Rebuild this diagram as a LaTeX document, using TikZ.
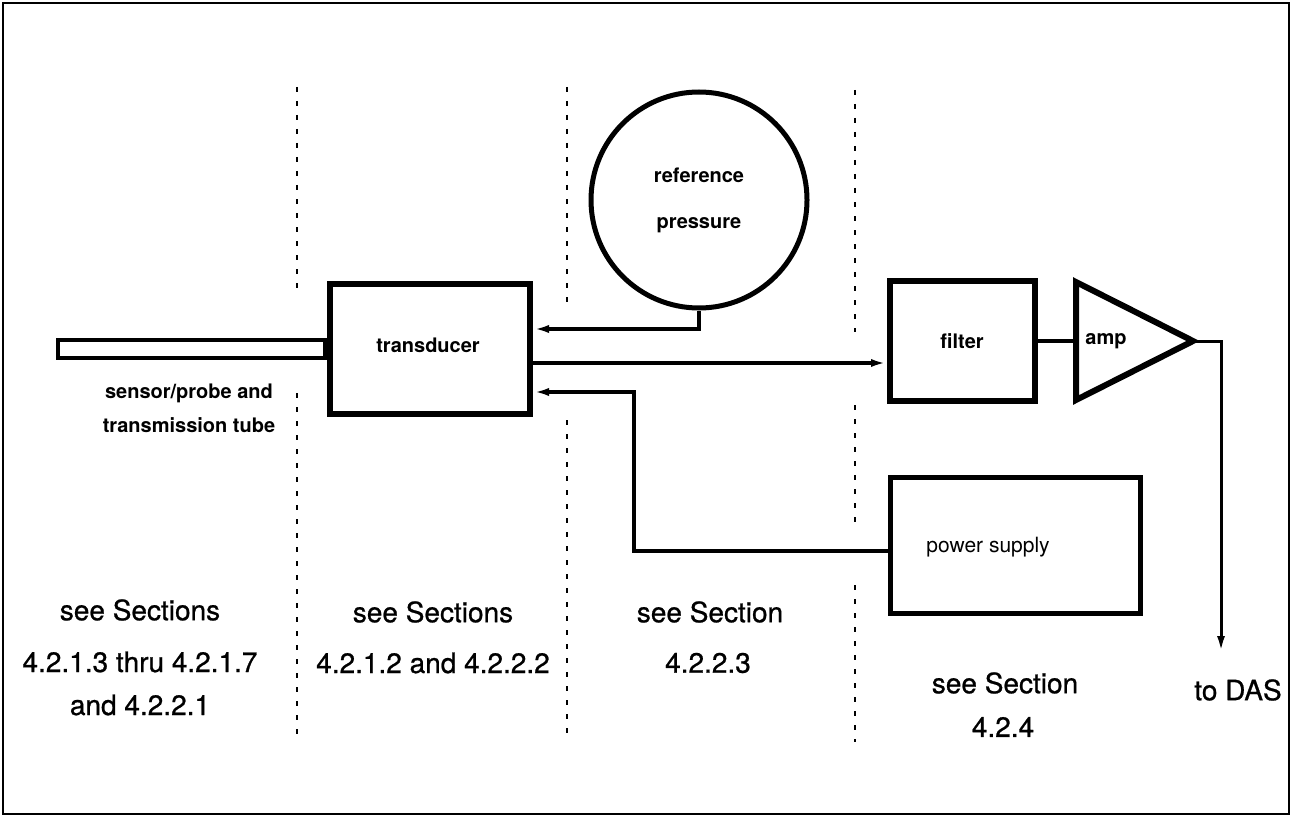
\documentclass[tikz,border=0pt]{standalone}
\usepackage{fontspec}
\setmainfont{TeX Gyre Heros}
\newfontfamily\medfont[FakeBold=0.8]{TeX Gyre Heros}
\usetikzlibrary{arrows.meta,calc}
\tikzset{
  blk/.style={draw, line width=3pt, inner sep=0pt},
  conn/.style={line width=2pt, -{Latex[length=8pt,width=4pt]}},
  sep/.style={line width=1pt, dash pattern=on 2.5pt off 4.5pt},
  lbl/.style={font=\fontsize{10}{12}\selectfont\bfseries},
  big/.style={font=\fontsize{14}{16}\selectfont\medfont}
}

\begin{document}
\begin{tikzpicture}[x=0.5pt,y=-0.5pt]

  \fill[white] (0,0) rectangle (1293,818);
  \useasboundingbox (0,0) rectangle (1293,818);
  \draw[line width=1pt] (3,3) rectangle (1289,814);

  \draw[sep] (297,87) -- (297,290);
  \draw[sep] (297,393) -- (297,740);
  \draw[sep] (567,87) -- (567,310);
  \draw[sep] (567,420) -- (567,740);
  \draw[sep] (855,90) -- (855,332);
  \draw[sep] (855,405) -- (855,527);
  \draw[sep] (855,585) -- (855,742);

  \node[blk, minimum width=100pt, minimum height=65pt] (trans) at (430,349) {};
  \node[lbl] (translbl) at (428,345) {transducer};
  \node[draw, line width=2pt, inner sep=0pt, minimum width=133.5pt, minimum height=9pt, anchor=east] (tube) at (trans.west) {};
  \node[lbl] (probe1) at (189,393) {sensor/probe and};
  \node[lbl] (probe2) at (189,425) {transmission tube};

  \node[draw, circle, line width=2.5pt, minimum size=108pt, inner sep=0pt, lbl, align=center] (ref) at (699,200) {reference\\[11pt]pressure};

  \node[blk, minimum width=72.5pt, minimum height=60pt] (filter) at (962.5,341) {};
  \node[lbl] (filterlbl) at (962,341) {filter};

  \draw[line width=3pt, line join=miter] (1076,282) -- (1193,341) -- (1076,400) -- cycle;
  \coordinate (ampin) at (1076,341);
  \coordinate (ampout) at (1193,341);
  \node[lbl] (amplbl) at (1106,341) {amp};

  \node[draw, line width=2.5pt, inner sep=0pt, minimum width=125pt, minimum height=68pt] (psu) at (1015,545) {};
  \node[font=\fontsize{10.5}{12}\selectfont] (psulbl) at (988,547) {power supply};

  \draw[conn] (ref.south) |- ([yshift=10pt]trans.east);
  \draw[conn] ([yshift=-7pt]trans.east) -- ([yshift=-7pt]trans.east -| filter.west);
  \coordinate (bend) at (634,392);
  \draw[conn] ([yshift=-3pt]psu.west) -| (bend) -- (bend -| trans.east);
  \draw[line width=2pt] (filter.east) -- (ampin);
  \coordinate (das) at (1221,652);
  \draw[line width=1.5pt, -{Latex[length=8pt,width=4pt]}] (ampout) -| (das);
  \node[big] (daslbl) at (1238,690) {to DAS};

  \node[big] (s1a) at (140,610) {see Sections};
  \node[big] (s1b) at (140,662) {4.2.1.3 thru 4.2.1.7};
  \node[big] (s1c) at (140,705) {and 4.2.2.1};
  \node[big] (s2a) at (433,612) {see Sections};
  \node[big] (s2b) at (433,663) {4.2.1.2 and 4.2.2.2};
  \node[big] (s3a) at (710,612) {see Section};
  \node[big] (s3b) at (708,663) {4.2.2.3};
  \node[big] (s4a) at (1005,683) {see Section};
  \node[big] (s4b) at (1003,727) {4.2.4};

\end{tikzpicture}
\end{document}
